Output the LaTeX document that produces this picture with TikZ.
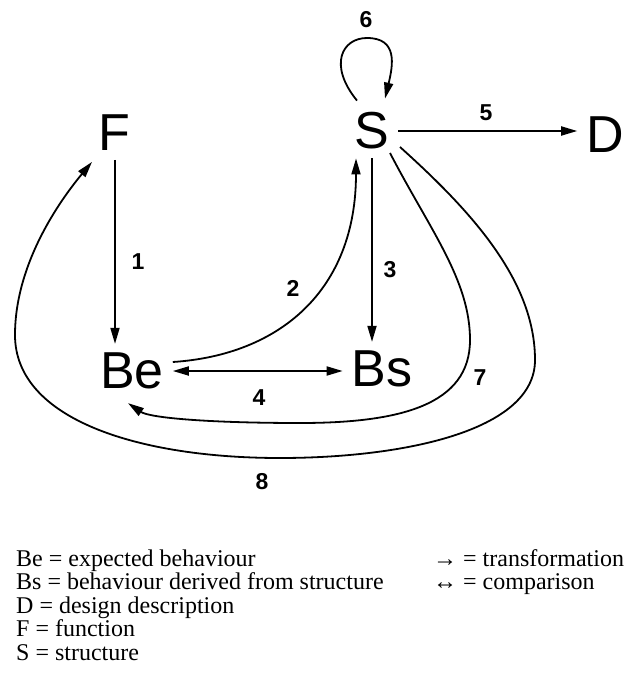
\documentclass[tikz,border=0pt]{standalone}
\usepackage{fontspec}
\setmainfont{Liberation Serif}
\setsansfont{Liberation Sans}
\usetikzlibrary{arrows.meta, calc}

\begin{document}
\begin{tikzpicture}[
        x=1pt, y=-1pt,
        var/.style={font=\sffamily\fontsize{52}{52}\selectfont, inner sep=9pt, outer sep=0pt},
        num/.style={font=\sffamily\bfseries\fontsize{23}{23}\selectfont, inner sep=0pt},
        trans/.style={line width=1.8pt, -{Triangle[length=16pt, width=9pt]}},
        comp/.style={line width=1.8pt, {Triangle[length=16pt, width=9pt]}-{Triangle[length=16pt, width=9pt]}},
        key/.style={font=\fontsize{24}{24}\selectfont, anchor=base west, inner sep=0pt}
    ]
    \useasboundingbox (0,0) rectangle (629,684);

    \node[var] (F) at (114,133) {F};
    \node[var] (S) at (372,131) {S};
    \node[var] (D) at (605,135) {D};
    \node[var] (Be) at (132,371) {Be};
    \node[var] (Bs) at (382,369) {Bs};

    \draw[trans] ([xshift=1pt]F.south) -- ([xshift=1pt]F.south |- Be.north);
    \draw[trans] ([yshift=9pt]Be.east) .. controls (280,355) and (356,290) .. ([xshift=-16pt]S.south);
    \draw[trans] (S.south) -- (S.south |- Bs.north);
    \draw[comp] (Be.east) -- (Be.east -| Bs.west);
    \draw[trans] (S.east) -- (S.east -| D.west);
    \draw[trans] ($(S.north)+(-15,-3)$) .. controls (328,65) and (342,38) .. (367,38)
        .. controls (398,38) and (393,65) .. ($(S.north)+(13,-5)$);
    \draw[trans] ($(S.center)+(18,22)$) .. controls (430,230) and (470,280) .. (470,340)
        .. controls (470,405) and (400,423) .. (300,423)
        .. controls (210,423) and (150,418) .. ($(Be.south)+(-4,5)$);
    \draw[trans] ($(S.center)+(28,16)$) .. controls (470,210) and (535,280) .. (535,360)
        .. controls (535,432) and (400,458) .. (280,458)
        .. controls (140,458) and (15,420) .. (15,335)
        .. controls (15,262) and (62,198) .. ($(F.south)+(-22,2)$);

    \node[num] (l1) at (138,262) {1};
    \node[num] (l2) at (293,288) {2};
    \node[num] (l3) at (390,270) {3};
    \node[num] (l4) at (259,398) {4};
    \node[num] (l5) at (486,113) {5};
    \node[num] (l6) at (366,20) {6};
    \node[num] (l7) at (480,378) {7};
    \node[num] (l8) at (262,482) {8};

    \node[key] (kBe) at (16,566) {Be = expected behaviour};
    \node[key] (kBs) at (16,589.5) {Bs = behaviour derived from structure};
    \node[key] (kD) at (16,613) {D = design description};
    \node[key] (kF) at (16,636.5) {F = function};
    \node[key] (kS) at (16,660) {S = structure};
    \node[key] (kt) at (433,566) {→ = transformation};
    \node[key] (kc) at (433,589.5) {↔ = comparison};
\end{tikzpicture}
\end{document}
